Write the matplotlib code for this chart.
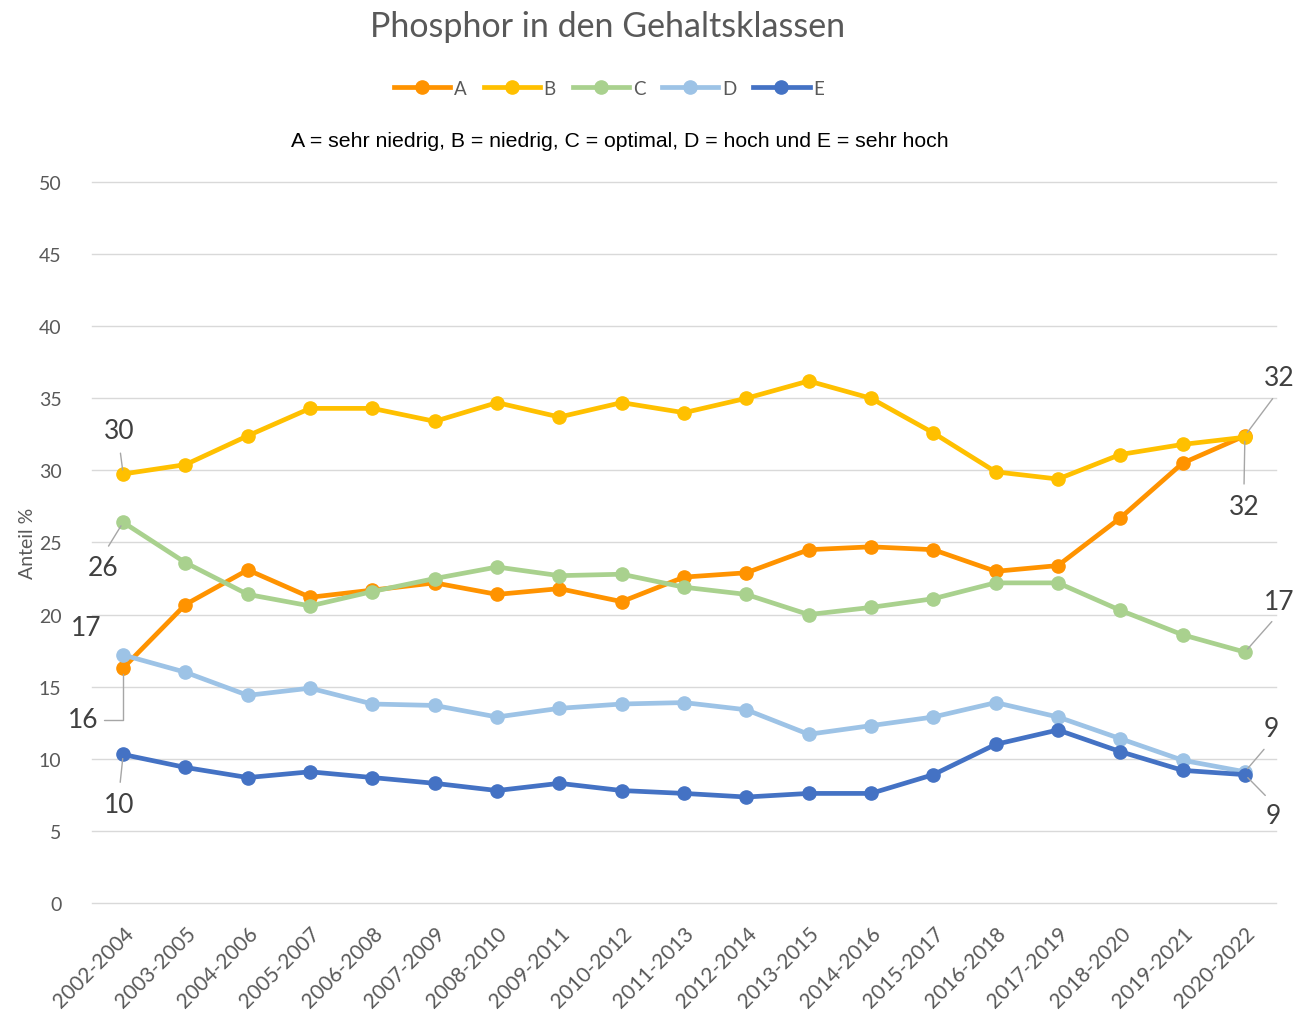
import matplotlib.pyplot as plt
from matplotlib.lines import Line2D

plt.rcParams['font.family'] = ['Lato', 'DejaVu Sans']

perioden = ['2002-2004', '2003-2005', '2004-2006', '2005-2007', '2006-2008',
            '2007-2009', '2008-2010', '2009-2011', '2010-2012', '2011-2013',
            '2012-2014', '2013-2015', '2014-2016', '2015-2017', '2016-2018',
            '2017-2019', '2018-2020', '2019-2021', '2020-2022']

A = [16.3, 20.7, 23.1, 21.2, 21.7, 22.2, 21.4, 21.8, 20.9, 22.6,
     22.9, 24.5, 24.7, 24.5, 23.0, 23.4, 26.7, 30.5, 32.4]
B = [29.75, 30.4, 32.4, 34.3, 34.3, 33.4, 34.7, 33.7, 34.7, 34.0,
     35.0, 36.2, 35.0, 32.6, 29.9, 29.4, 31.1, 31.8, 32.3]
C = [26.4, 23.6, 21.4, 20.6, 21.6, 22.5, 23.3, 22.7, 22.8, 21.9,
     21.4, 20.0, 20.5, 21.1, 22.2, 22.2, 20.3, 18.6, 17.4]
D = [17.2, 16.0, 14.4, 14.9, 13.8, 13.7, 12.9, 13.5, 13.8, 13.9,
     13.4, 11.7, 12.3, 12.9, 13.9, 12.9, 11.4, 9.9, 9.1]
E = [10.3, 9.4, 8.7, 9.1, 8.7, 8.3, 7.8, 8.3, 7.8, 7.6,
     7.35, 7.6, 7.6, 8.9, 11.0, 12.0, 10.5, 9.2, 8.9]

namen = ['A', 'B', 'C', 'D', 'E']
reihen = [A, B, C, D, E]
farben = ['#FF9300', '#FFC000', '#A9D18E', '#9DC3E6', '#4472C4']

fig = plt.figure(figsize=(12.96, 10.12), dpi=100)
ax = fig.add_axes([0.071, 0.1067, 0.9136, 0.7125])

x = list(range(len(perioden)))
for name, werte, farbe in zip(namen, reihen, farben):
    ax.plot(x, werte, color=farbe, lw=3.4, marker='o', markersize=9.5,
            solid_capstyle='round', label=name, zorder=3)

ax.set_xlim(-0.5, len(perioden) - 0.5)
ax.set_ylim(0, 50)
ax.set_yticks(range(0, 51, 5))
ax.set_xticks(x)
ax.set_xticklabels(perioden, rotation=45, ha='right', rotation_mode='anchor')
ax.tick_params(axis='both', length=0, labelsize=14, colors='#595959')
ax.tick_params(axis='x', pad=14, labelsize=15)
ax.tick_params(axis='y', pad=22)
ax.grid(axis='y', color='#D9D9D9', lw=1)
for gl in ax.get_ygridlines():
    gl.set_clip_on(False)
ax.set_axisbelow(True)
for s in ax.spines.values():
    s.set_visible(False)
ax.set_ylabel('Anteil %', fontsize=14, color='#595959', labelpad=2)

# data labels with leader lines: (series index, point index, offset px, relpos)
labels = [
    (1, 0, (-4, 43), (0.5, 0)),
    (2, 0, (-20, -45), (0.5, 1)),
    (3, 0, (-37, 27), None),
    (0, 0, (-40, -52), 'elbow'),
    (4, 0, (-4, -50), (0.5, 1)),
    (0, 18, (34, 58), (0.5, 0)),
    (1, 18, (-1, -69), (0.5, 1)),
    (2, 18, (34, 51), (0.5, 0)),
    (3, 18, (26, 43), (0.5, 0)),
    (4, 18, (28, -41), (0.5, 1)),
]
for si, pi, (dx, dy), rel in labels:
    v = reihen[si][pi]
    kw = dict(xy=(pi, v), xytext=(dx * 0.72, dy * 0.72), textcoords='offset points',
              ha='center', va='center', fontsize=19, color='#404040',
              annotation_clip=False, zorder=5)
    if rel == 'elbow':
        kw['arrowprops'] = dict(arrowstyle='-', color='#A6A6A6', lw=1,
                                shrinkA=2, shrinkB=4, relpos=(1, 0.5),
                                connectionstyle='angle,angleA=0,angleB=90,rad=0')
    elif rel is not None:
        kw['arrowprops'] = dict(arrowstyle='-', color='#A6A6A6', lw=1,
                                shrinkA=5, shrinkB=3, relpos=rel)
    ax.annotate(f'{v:.0f}', **kw)

fig.text(0.469, 0.973, 'Phosphor in den Gehaltsklassen', ha='center', va='center',
         fontsize=24.5, color='#595959')
fig.text(0.478, 0.86, 'A = sehr niedrig, B = niedrig, C = optimal, D = hoch und E = sehr hoch',
         ha='center', va='center', fontsize=15.3, color='black', family='Liberation Sans')

handles = [Line2D([0], [0], color=f, lw=3.4, marker='o', markersize=9.5) for f in farben]
fig.legend(handles, namen, loc='center', bbox_to_anchor=(0.47, 0.912), ncol=5,
           frameon=False, fontsize=13.5, labelcolor='#595959', handlelength=3,
           handletextpad=0.2, columnspacing=0.9)

fig.savefig('out.png', dpi=100)
